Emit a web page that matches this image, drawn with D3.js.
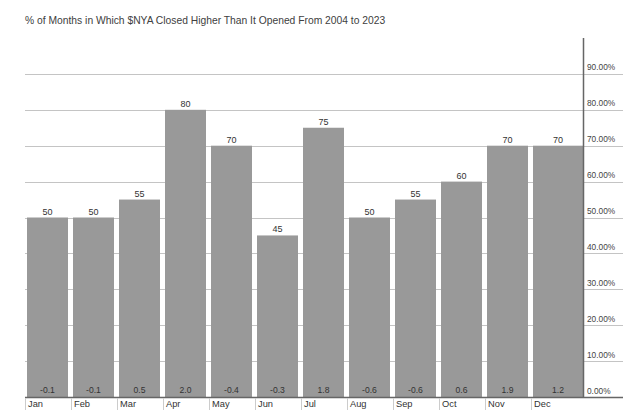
<!DOCTYPE html>
<html><head><meta charset="utf-8">
<script src="https://cdn.jsdelivr.net/npm/d3@7"></script>
<style>body{margin:0;background:#fff}svg{display:block;font-family:"Liberation Sans",Arial,sans-serif}</style>
</head><body><svg id="c" width="640" height="417"></svg>
<script>
const months = ["Jan","Feb","Mar","Apr","May","Jun","Jul","Aug","Sep","Oct","Nov","Dec"];
const pctHigher = [50,50,55,80,70,45,75,50,55,60,70,70];
const avgReturn = ["-0.1","-0.1","0.5","2.0","-0.4","-0.3","1.8","-0.6","-0.6","0.6","1.9","1.2"];
const yTicks = [0,10,20,30,40,50,60,70,80,90];
const title = "% of Months in Which $NYA Closed Higher Than It Opened From 2004 to 2023";

(function(){
const svg = d3.select("#c");
const mLeft = 25, axisX = 583, gridRight = 623, mTop = 38, mBottom = 397;
const x = d3.scaleBand().domain(months).range([mLeft, mLeft + 46*12 - 5]).paddingInner(5/46).paddingOuter(0).align(0);
const y = d3.scaleLinear().domain([0,100]).range([mBottom, mTop]);

svg.append("text").attr("x", 25).attr("y", 24).attr("font-size", 10.3).attr("fill", "#404040").text(title);

svg.append("g").selectAll("line").data(yTicks.filter(t=>t>0)).join("line")
  .attr("x1", mLeft).attr("x2", gridRight).attr("y1", d=>Math.round(y(d))+0.5).attr("y2", d=>Math.round(y(d))+0.5)
  .attr("stroke", "#c4c4c4").attr("stroke-width", 1);

const last = months.length-1;
const bx = d => x(d)+2;
const bw = (d,i) => i===last ? axisX - bx(d) : x.bandwidth();
svg.append("g").selectAll("rect").data(months).join("rect")
  .attr("x", bx).attr("width", bw)
  .attr("y", (d,i)=>y(pctHigher[i]))
  .attr("height", (d,i)=>mBottom - y(pctHigher[i]))
  .attr("fill", "#999999");

svg.append("g").selectAll("text").data(months).join("text")
  .attr("x", (d,i)=> bx(d)+bw(d,i)/2)
  .attr("y", (d,i)=>y(pctHigher[i]) - 3)
  .attr("text-anchor", "middle").attr("font-size", 9).attr("fill", "#333")
  .text((d,i)=>pctHigher[i]);

svg.append("g").selectAll("text").data(months).join("text")
  .attr("x", (d,i)=> bx(d)+bw(d,i)/2)
  .attr("y", mBottom - 4)
  .attr("text-anchor", "middle").attr("font-size", 8.6).attr("fill", "#333")
  .text((d,i)=>avgReturn[i]);

svg.append("line").attr("x1", axisX+0.5).attr("x2", axisX+0.5).attr("y1", mTop).attr("y2", mBottom)
  .attr("stroke", "#666").attr("stroke-width", 1.5);
svg.append("g").selectAll("text").data(yTicks).join("text")
  .attr("x", axisX + 4).attr("y", d=>y(d) - 3.5)
  .attr("font-size", 8.3).attr("fill", "#444")
  .text(d=>d3.format(".2f")(d) + "%");

svg.append("line").attr("x1", mLeft).attr("x2", gridRight).attr("y1", mBottom+0.5).attr("y2", mBottom+0.5)
  .attr("stroke", "#666").attr("stroke-width", 1.5);
const xa = svg.append("g").selectAll("g").data(months).join("g");
xa.append("line").attr("x1", d=>Math.round(x(d))+0.5).attr("x2", d=>Math.round(x(d))+0.5)
  .attr("y1", mBottom+1).attr("y2", mBottom+13).attr("stroke", "#ccc");
xa.append("text").attr("x", d=>x(d)+3).attr("y", mBottom+10).attr("font-size", 9.3).attr("fill", "#333").text(d=>d);
})();
</script></body></html>
